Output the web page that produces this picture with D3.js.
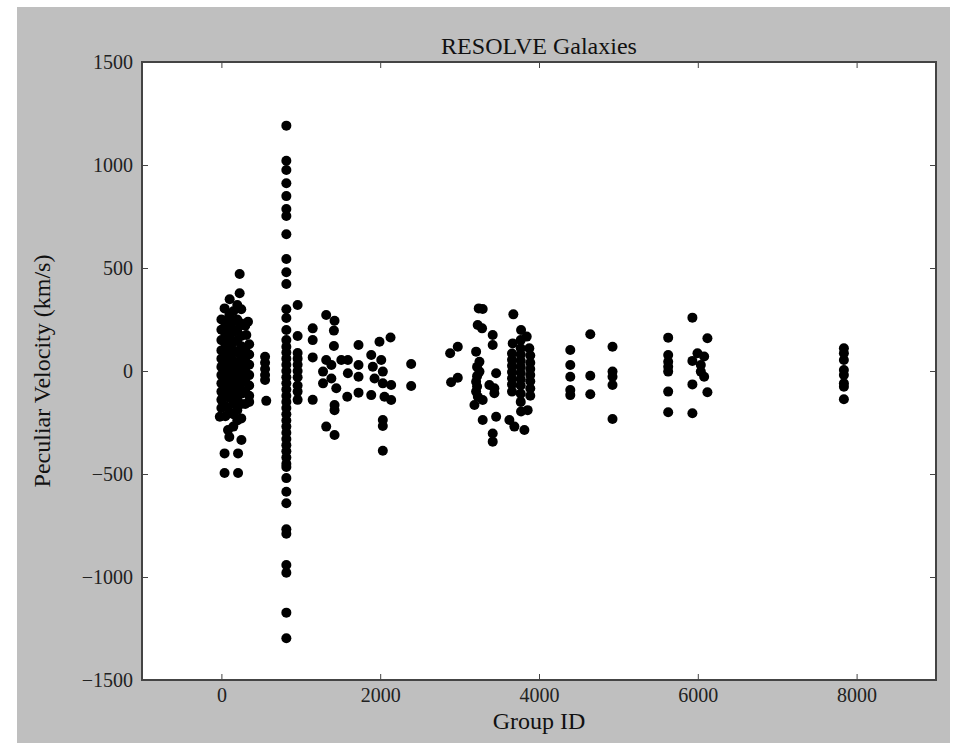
<!DOCTYPE html>
<html>
<head>
<meta charset="utf-8">
<script src="https://cdn.jsdelivr.net/npm/d3@7"></script>
<style>
  body { margin: 0; background: #fff; }
  text { font-family: "Liberation Serif", "DejaVu Serif", serif; }
</style>
</head>
<body>
<div id="chart"></div>
<script>
// galaxies, as [group ID, peculiar velocity (km/s)]
const groupsNearZero = [
  [0,250],[0,200],[0,150],[0,100],[0,60],[0,20],[0,-20],[0,-60],[0,-100],[0,-140],[0,-180],[-20,-222],
  [40,304],[50,230],[50,180],[50,130],[50,90],[50,40],[50,0],[50,-40],[50,-80],[50,-120],[50,-170],[50,-220],[40,-400],[40,-495],
  [104,348],[100,270],[100,210],[100,160],[100,110],[100,70],[100,30],[100,-10],[100,-50],[100,-90],[100,-130],[100,-200],[83,-286],[100,-320],
  [150,290],[150,240],[150,190],[150,140],[150,100],[150,50],[150,10],[150,-30],[150,-70],[150,-110],[150,-160],[150,-210],[150,-270],
  [200,320],[200,250],[200,200],[200,150],[200,90],[200,40],[200,0],[200,-40],[200,-90],[200,-140],[200,-190],[200,-240],[210,-400],[210,-495],
  [230,471],[230,377],[250,300],[250,230],[250,170],[250,120],[250,70],[250,20],[250,-20],[250,-60],[250,-110],[250,-160],[250,-230],[252,-335],
  [300,220],[314,175],[300,100],[300,50],[300,0],[300,-50],[300,-100],[300,-160],
  [335,239],[350,130],[350,80],[350,30],[350,-20],[350,-70],[350,-120],[350,-150]
];
const group560 = [[550,69],[550,40],[550,10],[550,-19],[550,-44],[565,-145]];
const group820 = [
  1191,1021,976,911,849,786,752,664,544,479,422,300,257,199,150,118,
  90,60,30,0,-30,-60,-90,-120,-150,-180,-210,-240,-270,-300,-330,-360,-390,-420,-450,-466,
  -520,-586,-642,-768,-790,-942,-979,-1173,-1297
].map(v => [818, v]);
const groups960to2400 = [
  [960,320],[960,170],[960,87],[960,60],[960,30],[960,0],[960,-30],[960,-70],[960,-100],[960,-140],
  [1150,207],[1150,150],[1150,66],[1150,-140],
  [1320,272],[1425,244],[1417,196],[1417,121],[1320,53],[1280,-3],[1280,-60],[1385,29],[1385,-36],[1447,-84],
  [1510,53],[1593,53],[1593,-11],[1585,-125],[1727,126],[1727,29],[1727,-28],[1727,-105],
  [1887,78],[1907,21],[1929,-36],[1887,-117],[1991,142],[2130,163],[2013,53],[2033,-3],[2033,-60],[2054,-125],
  [2138,-68],[2138,-141],[1425,-165],[1425,-190],[1320,-270],[1425,-311],[2033,-238],[2033,-267],[2033,-387],
  [2390,34],[2390,-73]
];
const groups2900to3900 = [
  [3241,304],[3291,301],[3677,275],[3228,223],[3283,207],[3774,199],[3417,175],[3845,167],[3417,126],
  [2977,118],[2881,86],[3208,94],[3669,134],[3878,110],[3250,45],[3250,-3],[3460,-11],[3208,-52],
  [2893,-55],[2977,-33],[3375,-68],[3438,-84],[3438,-108],[3208,-100],[3291,-141],[3187,-165],
  [3291,-238],[3460,-222],[3627,-238],[3690,-270],[3816,-286],[3774,-197],[3857,-190],[3417,-303],[3417,-343],
  [3220,20],[3220,-25],[3220,-75],[3230,-125],
  [3660,85],[3660,55],[3660,25],[3660,-5],[3660,-35],[3660,-65],[3660,-100],
  [3770,150],[3770,110],[3770,80],[3770,50],[3770,20],[3770,-10],[3770,-40],[3770,-70],[3770,-110],[3770,-150],
  [3890,75],[3890,40],[3890,10],[3890,-20],[3890,-50],[3890,-85],[3890,-120]
];
const groups4400to6100 = [
  [4394,102],[4394,29],[4394,-28],[4394,-92],[4394,-117],
  [4646,178],[4646,-23],[4646,-113],
  [4926,118],[4926,-3],[4926,-28],[4926,-68],[4926,-233],
  [5627,162],[5627,78],[5627,45],[5627,21],[5627,-3],[5627,-100],[5627,-200],
  [5932,259],[6121,159],[5996,86],[6080,70],[5932,49],[6038,29],[6038,-3],[6080,-28],[5932,-65],[6121,-103],[5932,-205]
];
const group7840 = [110,86,53,5,-19,-60,-76,-137].map(v => [7840, v]);

const xTicks = [0, 2000, 4000, 6000, 8000];
const yTicks = [-1500, -1000, -500, 0, 500, 1000, 1500];

const data = [].concat(groupsNearZero, group560, group820, groups960to2400, groups2900to3900, groups4400to6100, group7840);

const W = 957, H = 743;
const margin = { top: 62, right: 21, bottom: 63, left: 142 };
const width = W - margin.left - margin.right;
const height = H - margin.top - margin.bottom;

const svg = d3.select("#chart").append("svg").attr("width", W).attr("height", H);
svg.append("rect").attr("x", 17).attr("y", 7).attr("width", 933).attr("height", H - 7).attr("fill", "#bfbfbf");

const x = d3.scaleLinear().domain([-1000, 9000]).range([0, width]);
const y = d3.scaleLinear().domain([-1500, 1500]).range([height, 0]);

const g = svg.append("g").attr("transform", `translate(${margin.left},${margin.top})`);
g.append("rect").attr("width", width).attr("height", height).attr("fill", "#fff");

g.selectAll("circle")
    .data(data)
    .enter()
    .append("circle")
    .attr("cx", d => x(d[0]))
    .attr("cy", d => y(d[1]))
    .attr("r", 5)
    .attr("fill", "#000");

// classic matplotlib: ticks inside on all four sides
const fmt = d3.format("d");
function styleAxis(sel) {
  sel.select(".domain").remove();
  sel.selectAll(".tick line").attr("stroke", "#444").attr("stroke-width", 1);
  sel.selectAll(".tick text").attr("fill", "#222").attr("font-size", 20)
      .attr("font-family", "Liberation Serif, serif");
}
g.append("g").attr("transform", `translate(0,${height})`)
    .call(d3.axisBottom(x).tickValues(xTicks).tickFormat(fmt).tickSizeInner(-6).tickPadding(8))
    .call(styleAxis);
g.append("g")
    .call(d3.axisTop(x).tickValues(xTicks).tickSizeInner(-6).tickFormat(""))
    .call(styleAxis);
g.append("g")
    .call(d3.axisLeft(y).tickValues(yTicks).tickFormat(fmt).tickSizeInner(-6).tickPadding(9))
    .call(styleAxis);
g.append("g").attr("transform", `translate(${width},0)`)
    .call(d3.axisRight(y).tickValues(yTicks).tickSizeInner(-6).tickFormat(""))
    .call(styleAxis);

g.append("rect").attr("width", width).attr("height", height)
    .attr("fill", "none").attr("stroke", "#444").attr("stroke-width", 2);

g.append("text").attr("x", width / 2).attr("y", -8).attr("text-anchor", "middle")
    .attr("font-size", 24).attr("fill", "#111").text("RESOLVE Galaxies");
g.append("text").attr("x", width / 2).attr("y", height + 49).attr("text-anchor", "middle")
    .attr("font-size", 24).attr("fill", "#111").text("Group ID");
g.append("text").attr("transform", `translate(${-92},${height / 2}) rotate(-90)`)
    .attr("text-anchor", "middle").attr("font-size", 24).attr("fill", "#111")
    .text("Peculiar Velocity (km/s)");
</script>
</body>
</html>
